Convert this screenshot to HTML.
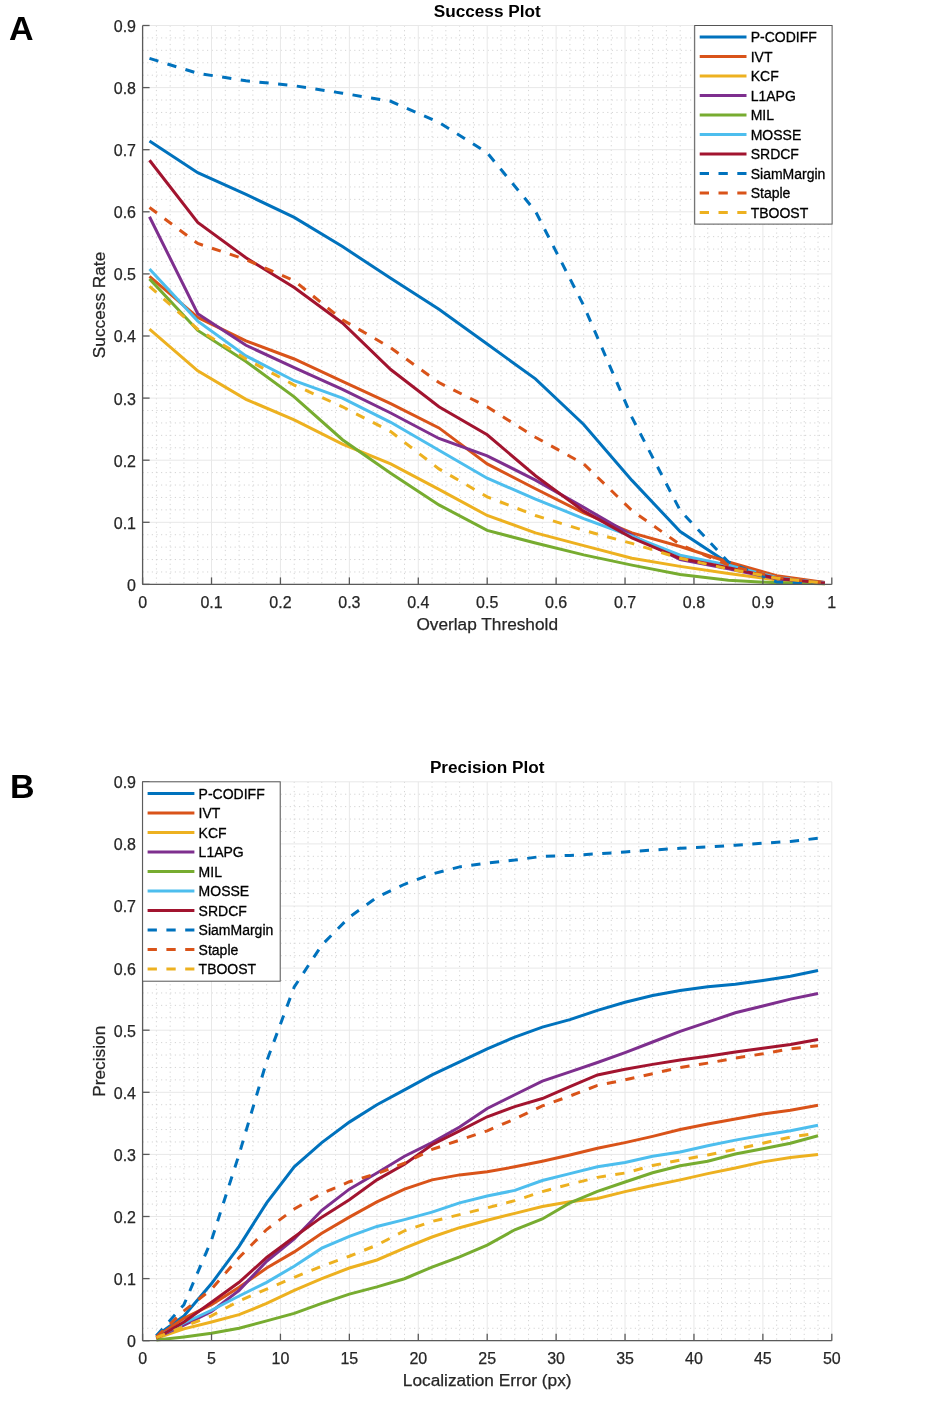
<!DOCTYPE html>
<html><head><meta charset="utf-8"><style>
html,body{margin:0;padding:0;background:#fff;}
svg{display:block;will-change:transform;font-family:"Liberation Sans",sans-serif;}
.mn{stroke:#d4d4d4;stroke-width:1;stroke-dasharray:1.2 3.4;}
.mj{stroke:#e8e8e8;stroke-width:1;}
.cv{fill:none;stroke-width:3.0;stroke-linejoin:miter;stroke-linecap:butt;}
.dsh{stroke-dasharray:9.3 9.5;}
.ax{stroke:#5a5a5a;stroke-width:1.3;}
.tl{font-size:16px;fill:#262626;stroke:#262626;stroke-width:0.25px;}
.al{font-size:17.25px;fill:#262626;stroke:#262626;stroke-width:0.25px;}
.ti{font-size:17.2px;font-weight:bold;fill:#000;}
.lg{fill:#fff;stroke:#555;stroke-width:1;}
.lt{font-size:14px;fill:#000;stroke:#000;stroke-width:0.3px;}
.pl{font-size:34px;font-weight:bold;fill:#000;}
</style></head><body>
<svg width="945" height="1404" viewBox="0 0 945 1404">
<rect width="945" height="1404" fill="#fff"/>
<line x1="156.38" y1="25.5" x2="156.38" y2="584.4" class="mn"/>
<line x1="170.17" y1="25.5" x2="170.17" y2="584.4" class="mn"/>
<line x1="183.95" y1="25.5" x2="183.95" y2="584.4" class="mn"/>
<line x1="197.74" y1="25.5" x2="197.74" y2="584.4" class="mn"/>
<line x1="225.3" y1="25.5" x2="225.3" y2="584.4" class="mn"/>
<line x1="239.09" y1="25.5" x2="239.09" y2="584.4" class="mn"/>
<line x1="252.87" y1="25.5" x2="252.87" y2="584.4" class="mn"/>
<line x1="266.66" y1="25.5" x2="266.66" y2="584.4" class="mn"/>
<line x1="294.22" y1="25.5" x2="294.22" y2="584.4" class="mn"/>
<line x1="308.01" y1="25.5" x2="308.01" y2="584.4" class="mn"/>
<line x1="321.79" y1="25.5" x2="321.79" y2="584.4" class="mn"/>
<line x1="335.58" y1="25.5" x2="335.58" y2="584.4" class="mn"/>
<line x1="363.14" y1="25.5" x2="363.14" y2="584.4" class="mn"/>
<line x1="376.93" y1="25.5" x2="376.93" y2="584.4" class="mn"/>
<line x1="390.71" y1="25.5" x2="390.71" y2="584.4" class="mn"/>
<line x1="404.5" y1="25.5" x2="404.5" y2="584.4" class="mn"/>
<line x1="432.06" y1="25.5" x2="432.06" y2="584.4" class="mn"/>
<line x1="445.85" y1="25.5" x2="445.85" y2="584.4" class="mn"/>
<line x1="459.63" y1="25.5" x2="459.63" y2="584.4" class="mn"/>
<line x1="473.42" y1="25.5" x2="473.42" y2="584.4" class="mn"/>
<line x1="500.98" y1="25.5" x2="500.98" y2="584.4" class="mn"/>
<line x1="514.77" y1="25.5" x2="514.77" y2="584.4" class="mn"/>
<line x1="528.55" y1="25.5" x2="528.55" y2="584.4" class="mn"/>
<line x1="542.34" y1="25.5" x2="542.34" y2="584.4" class="mn"/>
<line x1="569.9" y1="25.5" x2="569.9" y2="584.4" class="mn"/>
<line x1="583.69" y1="25.5" x2="583.69" y2="584.4" class="mn"/>
<line x1="597.47" y1="25.5" x2="597.47" y2="584.4" class="mn"/>
<line x1="611.26" y1="25.5" x2="611.26" y2="584.4" class="mn"/>
<line x1="638.82" y1="25.5" x2="638.82" y2="584.4" class="mn"/>
<line x1="652.61" y1="25.5" x2="652.61" y2="584.4" class="mn"/>
<line x1="666.39" y1="25.5" x2="666.39" y2="584.4" class="mn"/>
<line x1="680.18" y1="25.5" x2="680.18" y2="584.4" class="mn"/>
<line x1="707.74" y1="25.5" x2="707.74" y2="584.4" class="mn"/>
<line x1="721.53" y1="25.5" x2="721.53" y2="584.4" class="mn"/>
<line x1="735.31" y1="25.5" x2="735.31" y2="584.4" class="mn"/>
<line x1="749.1" y1="25.5" x2="749.1" y2="584.4" class="mn"/>
<line x1="776.66" y1="25.5" x2="776.66" y2="584.4" class="mn"/>
<line x1="790.45" y1="25.5" x2="790.45" y2="584.4" class="mn"/>
<line x1="804.23" y1="25.5" x2="804.23" y2="584.4" class="mn"/>
<line x1="818.02" y1="25.5" x2="818.02" y2="584.4" class="mn"/>
<line x1="142.6" y1="571.98" x2="831.8" y2="571.98" class="mn"/>
<line x1="142.6" y1="559.56" x2="831.8" y2="559.56" class="mn"/>
<line x1="142.6" y1="547.14" x2="831.8" y2="547.14" class="mn"/>
<line x1="142.6" y1="534.72" x2="831.8" y2="534.72" class="mn"/>
<line x1="142.6" y1="509.88" x2="831.8" y2="509.88" class="mn"/>
<line x1="142.6" y1="497.46" x2="831.8" y2="497.46" class="mn"/>
<line x1="142.6" y1="485.04" x2="831.8" y2="485.04" class="mn"/>
<line x1="142.6" y1="472.62" x2="831.8" y2="472.62" class="mn"/>
<line x1="142.6" y1="447.78" x2="831.8" y2="447.78" class="mn"/>
<line x1="142.6" y1="435.36" x2="831.8" y2="435.36" class="mn"/>
<line x1="142.6" y1="422.94" x2="831.8" y2="422.94" class="mn"/>
<line x1="142.6" y1="410.52" x2="831.8" y2="410.52" class="mn"/>
<line x1="142.6" y1="385.68" x2="831.8" y2="385.68" class="mn"/>
<line x1="142.6" y1="373.26" x2="831.8" y2="373.26" class="mn"/>
<line x1="142.6" y1="360.84" x2="831.8" y2="360.84" class="mn"/>
<line x1="142.6" y1="348.42" x2="831.8" y2="348.42" class="mn"/>
<line x1="142.6" y1="323.58" x2="831.8" y2="323.58" class="mn"/>
<line x1="142.6" y1="311.16" x2="831.8" y2="311.16" class="mn"/>
<line x1="142.6" y1="298.74" x2="831.8" y2="298.74" class="mn"/>
<line x1="142.6" y1="286.32" x2="831.8" y2="286.32" class="mn"/>
<line x1="142.6" y1="261.48" x2="831.8" y2="261.48" class="mn"/>
<line x1="142.6" y1="249.06" x2="831.8" y2="249.06" class="mn"/>
<line x1="142.6" y1="236.64" x2="831.8" y2="236.64" class="mn"/>
<line x1="142.6" y1="224.22" x2="831.8" y2="224.22" class="mn"/>
<line x1="142.6" y1="199.38" x2="831.8" y2="199.38" class="mn"/>
<line x1="142.6" y1="186.96" x2="831.8" y2="186.96" class="mn"/>
<line x1="142.6" y1="174.54" x2="831.8" y2="174.54" class="mn"/>
<line x1="142.6" y1="162.12" x2="831.8" y2="162.12" class="mn"/>
<line x1="142.6" y1="137.28" x2="831.8" y2="137.28" class="mn"/>
<line x1="142.6" y1="124.86" x2="831.8" y2="124.86" class="mn"/>
<line x1="142.6" y1="112.44" x2="831.8" y2="112.44" class="mn"/>
<line x1="142.6" y1="100.02" x2="831.8" y2="100.02" class="mn"/>
<line x1="142.6" y1="75.18" x2="831.8" y2="75.18" class="mn"/>
<line x1="142.6" y1="62.76" x2="831.8" y2="62.76" class="mn"/>
<line x1="142.6" y1="50.34" x2="831.8" y2="50.34" class="mn"/>
<line x1="142.6" y1="37.92" x2="831.8" y2="37.92" class="mn"/>
<line x1="142.6" y1="25.5" x2="142.6" y2="584.4" class="mj"/>
<line x1="211.52" y1="25.5" x2="211.52" y2="584.4" class="mj"/>
<line x1="280.44" y1="25.5" x2="280.44" y2="584.4" class="mj"/>
<line x1="349.36" y1="25.5" x2="349.36" y2="584.4" class="mj"/>
<line x1="418.28" y1="25.5" x2="418.28" y2="584.4" class="mj"/>
<line x1="487.2" y1="25.5" x2="487.2" y2="584.4" class="mj"/>
<line x1="556.12" y1="25.5" x2="556.12" y2="584.4" class="mj"/>
<line x1="625.04" y1="25.5" x2="625.04" y2="584.4" class="mj"/>
<line x1="693.96" y1="25.5" x2="693.96" y2="584.4" class="mj"/>
<line x1="762.88" y1="25.5" x2="762.88" y2="584.4" class="mj"/>
<line x1="831.8" y1="25.5" x2="831.8" y2="584.4" class="mj"/>
<line x1="142.6" y1="584.4" x2="831.8" y2="584.4" class="mj"/>
<line x1="142.6" y1="522.3" x2="831.8" y2="522.3" class="mj"/>
<line x1="142.6" y1="460.2" x2="831.8" y2="460.2" class="mj"/>
<line x1="142.6" y1="398.1" x2="831.8" y2="398.1" class="mj"/>
<line x1="142.6" y1="336" x2="831.8" y2="336" class="mj"/>
<line x1="142.6" y1="273.9" x2="831.8" y2="273.9" class="mj"/>
<line x1="142.6" y1="211.8" x2="831.8" y2="211.8" class="mj"/>
<line x1="142.6" y1="149.7" x2="831.8" y2="149.7" class="mj"/>
<line x1="142.6" y1="87.6" x2="831.8" y2="87.6" class="mj"/>
<line x1="142.6" y1="25.5" x2="831.8" y2="25.5" class="mj"/>
<polyline points="149.49,141.01 197.74,172.68 245.98,194.41 294.22,217.39 342.47,246.58 390.71,278.25 438.96,309.3 487.2,344.07 535.44,378.85 583.69,424.49 631.93,480.38 680.18,531.62 728.42,563.29 776.66,578.19 824.91,582.54" class="cv" stroke="#0072BD"/>
<polyline points="149.49,276.38 197.74,317.37 245.98,340.97 294.22,358.98 342.47,381.33 390.71,403.69 438.96,427.91 487.2,463.93 535.44,488.77 583.69,512.99 631.93,532.86 680.18,546.52 728.42,562.04 776.66,575.71 824.91,582.54" class="cv" stroke="#D95319"/>
<polyline points="149.49,329.17 197.74,370.78 245.98,399.34 294.22,419.83 342.47,444.05 390.71,463.93 438.96,489.39 487.2,515.47 535.44,532.86 583.69,545.59 631.93,558.32 680.18,566.39 728.42,573.47 776.66,580.05 824.91,583.78" class="cv" stroke="#EDB120"/>
<polyline points="149.49,216.77 197.74,313.64 245.98,345.31 294.22,367.67 342.47,389.41 390.71,413 438.96,438.46 487.2,455.85 535.44,480.07 583.69,507.4 631.93,535.34 680.18,559.56 728.42,568.88 776.66,578.81 824.91,583.16" class="cv" stroke="#7E2F8E"/>
<polyline points="149.49,278.87 197.74,330.41 245.98,361.46 294.22,396.86 342.47,439.71 390.71,473.24 438.96,504.91 487.2,530.37 535.44,543.04 583.69,554.9 631.93,565.15 680.18,574.46 728.42,580.3 776.66,582.79 824.91,583.78" class="cv" stroke="#77AC30"/>
<polyline points="149.49,268.93 197.74,321.1 245.98,355.87 294.22,380.71 342.47,398.1 390.71,422.32 438.96,450.26 487.2,478.21 535.44,499.01 583.69,518.57 631.93,536.27 680.18,555.21 728.42,565.15 776.66,577.57 824.91,583.16" class="cv" stroke="#4DBEEE"/>
<polyline points="149.49,160.26 197.74,222.36 245.98,257.75 294.22,287.56 342.47,322.96 390.71,369.53 438.96,406.79 487.2,434.74 535.44,475.73 583.69,511.12 631.93,537.82 680.18,558.32 728.42,567.63 776.66,578.19 824.91,583.16" class="cv" stroke="#A2142F"/>
<polyline points="149.49,58.41 197.74,73.32 245.98,80.77 294.22,85.74 342.47,93.19 390.71,101.26 438.96,122.38 487.2,152.81 535.44,211.18 583.69,305.57 631.93,417.35 680.18,510.5 728.42,562.04 776.66,581.92 824.91,583.78" class="cv dsh" stroke="#0072BD"/>
<polyline points="149.49,207.45 197.74,243.47 245.98,259.62 294.22,280.73 342.47,319.85 390.71,347.8 438.96,382.57 487.2,406.79 535.44,437.22 583.69,463.93 631.93,510.5 680.18,544.66 728.42,565.15 776.66,577.57 824.91,583.16" class="cv dsh" stroke="#D95319"/>
<polyline points="149.49,286.32 197.74,329.17 245.98,358.98 294.22,385.06 342.47,406.79 390.71,431.63 438.96,468.89 487.2,496.84 535.44,515.47 583.69,530.37 631.93,543.41 680.18,558.32 728.42,568.88 776.66,578.19 824.91,583.16" class="cv dsh" stroke="#EDB120"/>
<line x1="142.6" y1="25.5" x2="142.6" y2="584.4" class="ax"/>
<line x1="142.6" y1="584.4" x2="831.8" y2="584.4" class="ax"/>
<line x1="142.6" y1="584.4" x2="142.6" y2="577.4" class="ax"/>
<text x="142.6" y="607.7" class="tl" text-anchor="middle">0</text>
<line x1="211.52" y1="584.4" x2="211.52" y2="577.4" class="ax"/>
<text x="211.52" y="607.7" class="tl" text-anchor="middle">0.1</text>
<line x1="280.44" y1="584.4" x2="280.44" y2="577.4" class="ax"/>
<text x="280.44" y="607.7" class="tl" text-anchor="middle">0.2</text>
<line x1="349.36" y1="584.4" x2="349.36" y2="577.4" class="ax"/>
<text x="349.36" y="607.7" class="tl" text-anchor="middle">0.3</text>
<line x1="418.28" y1="584.4" x2="418.28" y2="577.4" class="ax"/>
<text x="418.28" y="607.7" class="tl" text-anchor="middle">0.4</text>
<line x1="487.2" y1="584.4" x2="487.2" y2="577.4" class="ax"/>
<text x="487.2" y="607.7" class="tl" text-anchor="middle">0.5</text>
<line x1="556.12" y1="584.4" x2="556.12" y2="577.4" class="ax"/>
<text x="556.12" y="607.7" class="tl" text-anchor="middle">0.6</text>
<line x1="625.04" y1="584.4" x2="625.04" y2="577.4" class="ax"/>
<text x="625.04" y="607.7" class="tl" text-anchor="middle">0.7</text>
<line x1="693.96" y1="584.4" x2="693.96" y2="577.4" class="ax"/>
<text x="693.96" y="607.7" class="tl" text-anchor="middle">0.8</text>
<line x1="762.88" y1="584.4" x2="762.88" y2="577.4" class="ax"/>
<text x="762.88" y="607.7" class="tl" text-anchor="middle">0.9</text>
<line x1="831.8" y1="584.4" x2="831.8" y2="577.4" class="ax"/>
<text x="831.8" y="607.7" class="tl" text-anchor="middle">1</text>
<line x1="142.6" y1="584.4" x2="149.6" y2="584.4" class="ax"/>
<text x="136" y="590.8" class="tl" text-anchor="end">0</text>
<line x1="142.6" y1="522.3" x2="149.6" y2="522.3" class="ax"/>
<text x="136" y="528.7" class="tl" text-anchor="end">0.1</text>
<line x1="142.6" y1="460.2" x2="149.6" y2="460.2" class="ax"/>
<text x="136" y="466.6" class="tl" text-anchor="end">0.2</text>
<line x1="142.6" y1="398.1" x2="149.6" y2="398.1" class="ax"/>
<text x="136" y="404.5" class="tl" text-anchor="end">0.3</text>
<line x1="142.6" y1="336" x2="149.6" y2="336" class="ax"/>
<text x="136" y="342.4" class="tl" text-anchor="end">0.4</text>
<line x1="142.6" y1="273.9" x2="149.6" y2="273.9" class="ax"/>
<text x="136" y="280.3" class="tl" text-anchor="end">0.5</text>
<line x1="142.6" y1="211.8" x2="149.6" y2="211.8" class="ax"/>
<text x="136" y="218.2" class="tl" text-anchor="end">0.6</text>
<line x1="142.6" y1="149.7" x2="149.6" y2="149.7" class="ax"/>
<text x="136" y="156.1" class="tl" text-anchor="end">0.7</text>
<line x1="142.6" y1="87.6" x2="149.6" y2="87.6" class="ax"/>
<text x="136" y="94" class="tl" text-anchor="end">0.8</text>
<line x1="142.6" y1="25.5" x2="149.6" y2="25.5" class="ax"/>
<text x="136" y="31.9" class="tl" text-anchor="end">0.9</text>
<text x="487.2" y="16.9" class="ti" text-anchor="middle">Success Plot</text>
<text x="487.2" y="630" class="al" text-anchor="middle">Overlap Threshold</text>
<text x="0" y="0" class="al" text-anchor="middle" transform="translate(105.2,304.95) rotate(-90)">Success Rate</text>
<rect x="694.7" y="25.5" width="137.4" height="198.6" class="lg"/>
<line x1="699.7" y1="37.1" x2="746.5" y2="37.1" class="cv" stroke="#0072BD"/>
<text x="750.7" y="42.3" class="lt">P-CODIFF</text>
<line x1="699.7" y1="56.6" x2="746.5" y2="56.6" class="cv" stroke="#D95319"/>
<text x="750.7" y="61.8" class="lt">IVT</text>
<line x1="699.7" y1="76.1" x2="746.5" y2="76.1" class="cv" stroke="#EDB120"/>
<text x="750.7" y="81.3" class="lt">KCF</text>
<line x1="699.7" y1="95.6" x2="746.5" y2="95.6" class="cv" stroke="#7E2F8E"/>
<text x="750.7" y="100.8" class="lt">L1APG</text>
<line x1="699.7" y1="115.1" x2="746.5" y2="115.1" class="cv" stroke="#77AC30"/>
<text x="750.7" y="120.3" class="lt">MIL</text>
<line x1="699.7" y1="134.6" x2="746.5" y2="134.6" class="cv" stroke="#4DBEEE"/>
<text x="750.7" y="139.8" class="lt">MOSSE</text>
<line x1="699.7" y1="154.1" x2="746.5" y2="154.1" class="cv" stroke="#A2142F"/>
<text x="750.7" y="159.3" class="lt">SRDCF</text>
<line x1="699.7" y1="173.6" x2="746.5" y2="173.6" class="cv dsh" stroke="#0072BD"/>
<text x="750.7" y="178.8" class="lt">SiamMargin</text>
<line x1="699.7" y1="193.1" x2="746.5" y2="193.1" class="cv dsh" stroke="#D95319"/>
<text x="750.7" y="198.3" class="lt">Staple</text>
<line x1="699.7" y1="212.6" x2="746.5" y2="212.6" class="cv dsh" stroke="#EDB120"/>
<text x="750.7" y="217.8" class="lt">TBOOST</text>
<line x1="156.38" y1="781.8" x2="156.38" y2="1340.7" class="mn"/>
<line x1="170.17" y1="781.8" x2="170.17" y2="1340.7" class="mn"/>
<line x1="183.95" y1="781.8" x2="183.95" y2="1340.7" class="mn"/>
<line x1="197.74" y1="781.8" x2="197.74" y2="1340.7" class="mn"/>
<line x1="225.3" y1="781.8" x2="225.3" y2="1340.7" class="mn"/>
<line x1="239.09" y1="781.8" x2="239.09" y2="1340.7" class="mn"/>
<line x1="252.87" y1="781.8" x2="252.87" y2="1340.7" class="mn"/>
<line x1="266.66" y1="781.8" x2="266.66" y2="1340.7" class="mn"/>
<line x1="294.22" y1="781.8" x2="294.22" y2="1340.7" class="mn"/>
<line x1="308.01" y1="781.8" x2="308.01" y2="1340.7" class="mn"/>
<line x1="321.79" y1="781.8" x2="321.79" y2="1340.7" class="mn"/>
<line x1="335.58" y1="781.8" x2="335.58" y2="1340.7" class="mn"/>
<line x1="363.14" y1="781.8" x2="363.14" y2="1340.7" class="mn"/>
<line x1="376.93" y1="781.8" x2="376.93" y2="1340.7" class="mn"/>
<line x1="390.71" y1="781.8" x2="390.71" y2="1340.7" class="mn"/>
<line x1="404.5" y1="781.8" x2="404.5" y2="1340.7" class="mn"/>
<line x1="432.06" y1="781.8" x2="432.06" y2="1340.7" class="mn"/>
<line x1="445.85" y1="781.8" x2="445.85" y2="1340.7" class="mn"/>
<line x1="459.63" y1="781.8" x2="459.63" y2="1340.7" class="mn"/>
<line x1="473.42" y1="781.8" x2="473.42" y2="1340.7" class="mn"/>
<line x1="500.98" y1="781.8" x2="500.98" y2="1340.7" class="mn"/>
<line x1="514.77" y1="781.8" x2="514.77" y2="1340.7" class="mn"/>
<line x1="528.55" y1="781.8" x2="528.55" y2="1340.7" class="mn"/>
<line x1="542.34" y1="781.8" x2="542.34" y2="1340.7" class="mn"/>
<line x1="569.9" y1="781.8" x2="569.9" y2="1340.7" class="mn"/>
<line x1="583.69" y1="781.8" x2="583.69" y2="1340.7" class="mn"/>
<line x1="597.47" y1="781.8" x2="597.47" y2="1340.7" class="mn"/>
<line x1="611.26" y1="781.8" x2="611.26" y2="1340.7" class="mn"/>
<line x1="638.82" y1="781.8" x2="638.82" y2="1340.7" class="mn"/>
<line x1="652.61" y1="781.8" x2="652.61" y2="1340.7" class="mn"/>
<line x1="666.39" y1="781.8" x2="666.39" y2="1340.7" class="mn"/>
<line x1="680.18" y1="781.8" x2="680.18" y2="1340.7" class="mn"/>
<line x1="707.74" y1="781.8" x2="707.74" y2="1340.7" class="mn"/>
<line x1="721.53" y1="781.8" x2="721.53" y2="1340.7" class="mn"/>
<line x1="735.31" y1="781.8" x2="735.31" y2="1340.7" class="mn"/>
<line x1="749.1" y1="781.8" x2="749.1" y2="1340.7" class="mn"/>
<line x1="776.66" y1="781.8" x2="776.66" y2="1340.7" class="mn"/>
<line x1="790.45" y1="781.8" x2="790.45" y2="1340.7" class="mn"/>
<line x1="804.23" y1="781.8" x2="804.23" y2="1340.7" class="mn"/>
<line x1="818.02" y1="781.8" x2="818.02" y2="1340.7" class="mn"/>
<line x1="142.6" y1="1328.28" x2="831.8" y2="1328.28" class="mn"/>
<line x1="142.6" y1="1315.86" x2="831.8" y2="1315.86" class="mn"/>
<line x1="142.6" y1="1303.44" x2="831.8" y2="1303.44" class="mn"/>
<line x1="142.6" y1="1291.02" x2="831.8" y2="1291.02" class="mn"/>
<line x1="142.6" y1="1266.18" x2="831.8" y2="1266.18" class="mn"/>
<line x1="142.6" y1="1253.76" x2="831.8" y2="1253.76" class="mn"/>
<line x1="142.6" y1="1241.34" x2="831.8" y2="1241.34" class="mn"/>
<line x1="142.6" y1="1228.92" x2="831.8" y2="1228.92" class="mn"/>
<line x1="142.6" y1="1204.08" x2="831.8" y2="1204.08" class="mn"/>
<line x1="142.6" y1="1191.66" x2="831.8" y2="1191.66" class="mn"/>
<line x1="142.6" y1="1179.24" x2="831.8" y2="1179.24" class="mn"/>
<line x1="142.6" y1="1166.82" x2="831.8" y2="1166.82" class="mn"/>
<line x1="142.6" y1="1141.98" x2="831.8" y2="1141.98" class="mn"/>
<line x1="142.6" y1="1129.56" x2="831.8" y2="1129.56" class="mn"/>
<line x1="142.6" y1="1117.14" x2="831.8" y2="1117.14" class="mn"/>
<line x1="142.6" y1="1104.72" x2="831.8" y2="1104.72" class="mn"/>
<line x1="142.6" y1="1079.88" x2="831.8" y2="1079.88" class="mn"/>
<line x1="142.6" y1="1067.46" x2="831.8" y2="1067.46" class="mn"/>
<line x1="142.6" y1="1055.04" x2="831.8" y2="1055.04" class="mn"/>
<line x1="142.6" y1="1042.62" x2="831.8" y2="1042.62" class="mn"/>
<line x1="142.6" y1="1017.78" x2="831.8" y2="1017.78" class="mn"/>
<line x1="142.6" y1="1005.36" x2="831.8" y2="1005.36" class="mn"/>
<line x1="142.6" y1="992.94" x2="831.8" y2="992.94" class="mn"/>
<line x1="142.6" y1="980.52" x2="831.8" y2="980.52" class="mn"/>
<line x1="142.6" y1="955.68" x2="831.8" y2="955.68" class="mn"/>
<line x1="142.6" y1="943.26" x2="831.8" y2="943.26" class="mn"/>
<line x1="142.6" y1="930.84" x2="831.8" y2="930.84" class="mn"/>
<line x1="142.6" y1="918.42" x2="831.8" y2="918.42" class="mn"/>
<line x1="142.6" y1="893.58" x2="831.8" y2="893.58" class="mn"/>
<line x1="142.6" y1="881.16" x2="831.8" y2="881.16" class="mn"/>
<line x1="142.6" y1="868.74" x2="831.8" y2="868.74" class="mn"/>
<line x1="142.6" y1="856.32" x2="831.8" y2="856.32" class="mn"/>
<line x1="142.6" y1="831.48" x2="831.8" y2="831.48" class="mn"/>
<line x1="142.6" y1="819.06" x2="831.8" y2="819.06" class="mn"/>
<line x1="142.6" y1="806.64" x2="831.8" y2="806.64" class="mn"/>
<line x1="142.6" y1="794.22" x2="831.8" y2="794.22" class="mn"/>
<line x1="142.6" y1="781.8" x2="142.6" y2="1340.7" class="mj"/>
<line x1="211.52" y1="781.8" x2="211.52" y2="1340.7" class="mj"/>
<line x1="280.44" y1="781.8" x2="280.44" y2="1340.7" class="mj"/>
<line x1="349.36" y1="781.8" x2="349.36" y2="1340.7" class="mj"/>
<line x1="418.28" y1="781.8" x2="418.28" y2="1340.7" class="mj"/>
<line x1="487.2" y1="781.8" x2="487.2" y2="1340.7" class="mj"/>
<line x1="556.12" y1="781.8" x2="556.12" y2="1340.7" class="mj"/>
<line x1="625.04" y1="781.8" x2="625.04" y2="1340.7" class="mj"/>
<line x1="693.96" y1="781.8" x2="693.96" y2="1340.7" class="mj"/>
<line x1="762.88" y1="781.8" x2="762.88" y2="1340.7" class="mj"/>
<line x1="831.8" y1="781.8" x2="831.8" y2="1340.7" class="mj"/>
<line x1="142.6" y1="1340.7" x2="831.8" y2="1340.7" class="mj"/>
<line x1="142.6" y1="1278.6" x2="831.8" y2="1278.6" class="mj"/>
<line x1="142.6" y1="1216.5" x2="831.8" y2="1216.5" class="mj"/>
<line x1="142.6" y1="1154.4" x2="831.8" y2="1154.4" class="mj"/>
<line x1="142.6" y1="1092.3" x2="831.8" y2="1092.3" class="mj"/>
<line x1="142.6" y1="1030.2" x2="831.8" y2="1030.2" class="mj"/>
<line x1="142.6" y1="968.1" x2="831.8" y2="968.1" class="mj"/>
<line x1="142.6" y1="906" x2="831.8" y2="906" class="mj"/>
<line x1="142.6" y1="843.9" x2="831.8" y2="843.9" class="mj"/>
<line x1="142.6" y1="781.8" x2="831.8" y2="781.8" class="mj"/>
<polyline points="156.38,1335.73 183.95,1315.86 211.52,1283.57 239.09,1246.31 266.66,1202.84 294.22,1166.82 321.79,1142.6 349.36,1122.11 376.93,1104.72 404.5,1089.82 432.06,1074.91 459.63,1061.87 487.2,1048.83 514.77,1037.03 542.34,1027.1 569.9,1019.64 597.47,1010.33 625.04,1002.25 652.61,995.42 680.18,990.46 707.74,986.73 735.31,984.25 762.88,980.52 790.45,976.17 818.02,970.58" class="cv" stroke="#0072BD"/>
<polyline points="156.38,1336.97 183.95,1318.34 211.52,1304.68 239.09,1287.29 266.66,1268.04 294.22,1251.9 321.79,1233.27 349.36,1217.12 376.93,1201.84 404.5,1189.18 432.06,1179.86 459.63,1174.89 487.2,1171.79 514.77,1166.82 542.34,1161.23 569.9,1155.02 597.47,1148.19 625.04,1142.6 652.61,1136.39 680.18,1129.56 707.74,1123.97 735.31,1119 762.88,1114.04 790.45,1110.31 818.02,1105.34" class="cv" stroke="#D95319"/>
<polyline points="156.38,1338.22 183.95,1328.9 211.52,1322.07 239.09,1314.62 266.66,1303.44 294.22,1290.4 321.79,1278.6 349.36,1268.04 376.93,1259.97 404.5,1248.17 432.06,1236.99 459.63,1227.68 487.2,1220.23 514.77,1213.39 542.34,1206.56 569.9,1201.84 597.47,1198.49 625.04,1191.66 652.61,1185.45 680.18,1179.86 707.74,1173.65 735.31,1168.06 762.88,1161.85 790.45,1157.51 818.02,1154.4" class="cv" stroke="#EDB120"/>
<polyline points="156.38,1337.6 183.95,1325.17 211.52,1311.51 239.09,1290.4 266.66,1261.21 294.22,1238.86 321.79,1210.29 349.36,1189.18 376.93,1173.03 404.5,1156.26 432.06,1142.6 459.63,1127.08 487.2,1108.45 514.77,1094.78 542.34,1081.12 569.9,1071.81 597.47,1062.49 625.04,1052.56 652.61,1042 680.18,1031.44 707.74,1022.13 735.31,1012.81 762.88,1005.98 790.45,999.15 818.02,993.56" class="cv" stroke="#7E2F8E"/>
<polyline points="156.38,1340.08 183.95,1336.97 211.52,1333.25 239.09,1328.28 266.66,1320.83 294.22,1313.38 321.79,1303.44 349.36,1294.12 376.93,1286.86 404.5,1278.72 432.06,1267.05 459.63,1256.87 487.2,1245.07 514.77,1229.79 542.34,1218.98 569.9,1202.96 597.47,1191.35 625.04,1182.03 652.61,1172.72 680.18,1165.7 707.74,1161.23 735.31,1154.03 762.88,1148.81 790.45,1143.22 818.02,1135.77" class="cv" stroke="#77AC30"/>
<polyline points="156.38,1337.6 183.95,1323 211.52,1310.27 239.09,1295.99 266.66,1282.33 294.22,1266.18 321.79,1248.17 349.36,1236.37 376.93,1226.44 404.5,1219.61 432.06,1212.15 459.63,1202.84 487.2,1196.01 514.77,1190.42 542.34,1180.48 569.9,1173.65 597.47,1166.82 625.04,1162.47 652.61,1156.26 680.18,1151.92 707.74,1145.71 735.31,1140.12 762.88,1135.15 790.45,1130.8 818.02,1125.21" class="cv" stroke="#4DBEEE"/>
<polyline points="156.38,1338.22 183.95,1322.07 211.52,1302.2 239.09,1282.33 266.66,1257.49 294.22,1236.99 321.79,1217.12 349.36,1199.73 376.93,1179.86 404.5,1164.34 432.06,1144.71 459.63,1130.8 487.2,1116.77 514.77,1106.58 542.34,1098.51 569.9,1086.71 597.47,1074.91 625.04,1069.32 652.61,1064.36 680.18,1060.01 707.74,1056.28 735.31,1051.93 762.88,1048.21 790.45,1044.48 818.02,1039.52" class="cv" stroke="#A2142F"/>
<polyline points="156.38,1335.73 183.95,1304.68 211.52,1240.1 239.09,1154.4 266.66,1061.25 294.22,987.04 321.79,945.12 349.36,917.18 376.93,897.31 404.5,884.26 432.06,874.02 459.63,866.88 487.2,863.15 514.77,860.05 542.34,856.32 569.9,855.39 597.47,853.84 625.04,851.97 652.61,850.11 680.18,848.25 707.74,847 735.31,845.14 762.88,843.28 790.45,841.42 818.02,838.31" class="cv dsh" stroke="#0072BD"/>
<polyline points="156.38,1336.97 183.95,1310.89 211.52,1289.16 239.09,1257.49 266.66,1229.54 294.22,1209.05 321.79,1193.52 349.36,1181.72 376.93,1173.65 404.5,1163.09 432.06,1149.43 459.63,1140.12 487.2,1130.8 514.77,1119 542.34,1105.96 569.9,1096.03 597.47,1085.47 625.04,1079.88 652.61,1073.67 680.18,1067.46 707.74,1063.11 735.31,1058.14 762.88,1053.8 790.45,1048.83 818.02,1045.72" class="cv dsh" stroke="#D95319"/>
<polyline points="156.38,1337.6 183.95,1326.42 211.52,1315.86 239.09,1300.96 266.66,1289.16 294.22,1277.36 321.79,1266.18 349.36,1256.24 376.93,1245.07 404.5,1230.78 432.06,1221.47 459.63,1214.64 487.2,1207.81 514.77,1200.66 542.34,1191.66 569.9,1184.21 597.47,1177.38 625.04,1173.03 652.61,1165.58 680.18,1159.99 707.74,1155.02 735.31,1149.43 762.88,1143.22 790.45,1137.01 818.02,1133.29" class="cv dsh" stroke="#EDB120"/>
<line x1="142.6" y1="781.8" x2="142.6" y2="1340.7" class="ax"/>
<line x1="142.6" y1="1340.7" x2="831.8" y2="1340.7" class="ax"/>
<line x1="142.6" y1="1340.7" x2="142.6" y2="1333.7" class="ax"/>
<text x="142.6" y="1364" class="tl" text-anchor="middle">0</text>
<line x1="211.52" y1="1340.7" x2="211.52" y2="1333.7" class="ax"/>
<text x="211.52" y="1364" class="tl" text-anchor="middle">5</text>
<line x1="280.44" y1="1340.7" x2="280.44" y2="1333.7" class="ax"/>
<text x="280.44" y="1364" class="tl" text-anchor="middle">10</text>
<line x1="349.36" y1="1340.7" x2="349.36" y2="1333.7" class="ax"/>
<text x="349.36" y="1364" class="tl" text-anchor="middle">15</text>
<line x1="418.28" y1="1340.7" x2="418.28" y2="1333.7" class="ax"/>
<text x="418.28" y="1364" class="tl" text-anchor="middle">20</text>
<line x1="487.2" y1="1340.7" x2="487.2" y2="1333.7" class="ax"/>
<text x="487.2" y="1364" class="tl" text-anchor="middle">25</text>
<line x1="556.12" y1="1340.7" x2="556.12" y2="1333.7" class="ax"/>
<text x="556.12" y="1364" class="tl" text-anchor="middle">30</text>
<line x1="625.04" y1="1340.7" x2="625.04" y2="1333.7" class="ax"/>
<text x="625.04" y="1364" class="tl" text-anchor="middle">35</text>
<line x1="693.96" y1="1340.7" x2="693.96" y2="1333.7" class="ax"/>
<text x="693.96" y="1364" class="tl" text-anchor="middle">40</text>
<line x1="762.88" y1="1340.7" x2="762.88" y2="1333.7" class="ax"/>
<text x="762.88" y="1364" class="tl" text-anchor="middle">45</text>
<line x1="831.8" y1="1340.7" x2="831.8" y2="1333.7" class="ax"/>
<text x="831.8" y="1364" class="tl" text-anchor="middle">50</text>
<line x1="142.6" y1="1340.7" x2="149.6" y2="1340.7" class="ax"/>
<text x="136" y="1347.1" class="tl" text-anchor="end">0</text>
<line x1="142.6" y1="1278.6" x2="149.6" y2="1278.6" class="ax"/>
<text x="136" y="1285" class="tl" text-anchor="end">0.1</text>
<line x1="142.6" y1="1216.5" x2="149.6" y2="1216.5" class="ax"/>
<text x="136" y="1222.9" class="tl" text-anchor="end">0.2</text>
<line x1="142.6" y1="1154.4" x2="149.6" y2="1154.4" class="ax"/>
<text x="136" y="1160.8" class="tl" text-anchor="end">0.3</text>
<line x1="142.6" y1="1092.3" x2="149.6" y2="1092.3" class="ax"/>
<text x="136" y="1098.7" class="tl" text-anchor="end">0.4</text>
<line x1="142.6" y1="1030.2" x2="149.6" y2="1030.2" class="ax"/>
<text x="136" y="1036.6" class="tl" text-anchor="end">0.5</text>
<line x1="142.6" y1="968.1" x2="149.6" y2="968.1" class="ax"/>
<text x="136" y="974.5" class="tl" text-anchor="end">0.6</text>
<line x1="142.6" y1="906" x2="149.6" y2="906" class="ax"/>
<text x="136" y="912.4" class="tl" text-anchor="end">0.7</text>
<line x1="142.6" y1="843.9" x2="149.6" y2="843.9" class="ax"/>
<text x="136" y="850.3" class="tl" text-anchor="end">0.8</text>
<line x1="142.6" y1="781.8" x2="149.6" y2="781.8" class="ax"/>
<text x="136" y="788.2" class="tl" text-anchor="end">0.9</text>
<text x="487.2" y="773.2" class="ti" text-anchor="middle">Precision Plot</text>
<text x="487.2" y="1386.3" class="al" text-anchor="middle">Localization Error (px)</text>
<text x="0" y="0" class="al" text-anchor="middle" transform="translate(105.2,1061.25) rotate(-90)">Precision</text>
<rect x="142.6" y="781.8" width="137.6" height="199.4" class="lg"/>
<line x1="147.6" y1="793.4" x2="194.4" y2="793.4" class="cv" stroke="#0072BD"/>
<text x="198.6" y="798.6" class="lt">P-CODIFF</text>
<line x1="147.6" y1="812.9" x2="194.4" y2="812.9" class="cv" stroke="#D95319"/>
<text x="198.6" y="818.1" class="lt">IVT</text>
<line x1="147.6" y1="832.4" x2="194.4" y2="832.4" class="cv" stroke="#EDB120"/>
<text x="198.6" y="837.6" class="lt">KCF</text>
<line x1="147.6" y1="851.9" x2="194.4" y2="851.9" class="cv" stroke="#7E2F8E"/>
<text x="198.6" y="857.1" class="lt">L1APG</text>
<line x1="147.6" y1="871.4" x2="194.4" y2="871.4" class="cv" stroke="#77AC30"/>
<text x="198.6" y="876.6" class="lt">MIL</text>
<line x1="147.6" y1="890.9" x2="194.4" y2="890.9" class="cv" stroke="#4DBEEE"/>
<text x="198.6" y="896.1" class="lt">MOSSE</text>
<line x1="147.6" y1="910.4" x2="194.4" y2="910.4" class="cv" stroke="#A2142F"/>
<text x="198.6" y="915.6" class="lt">SRDCF</text>
<line x1="147.6" y1="929.9" x2="194.4" y2="929.9" class="cv dsh" stroke="#0072BD"/>
<text x="198.6" y="935.1" class="lt">SiamMargin</text>
<line x1="147.6" y1="949.4" x2="194.4" y2="949.4" class="cv dsh" stroke="#D95319"/>
<text x="198.6" y="954.6" class="lt">Staple</text>
<line x1="147.6" y1="968.9" x2="194.4" y2="968.9" class="cv dsh" stroke="#EDB120"/>
<text x="198.6" y="974.1" class="lt">TBOOST</text>
<text x="9" y="40" class="pl">A</text>
<text x="10" y="798" class="pl">B</text>
</svg>
</body></html>
